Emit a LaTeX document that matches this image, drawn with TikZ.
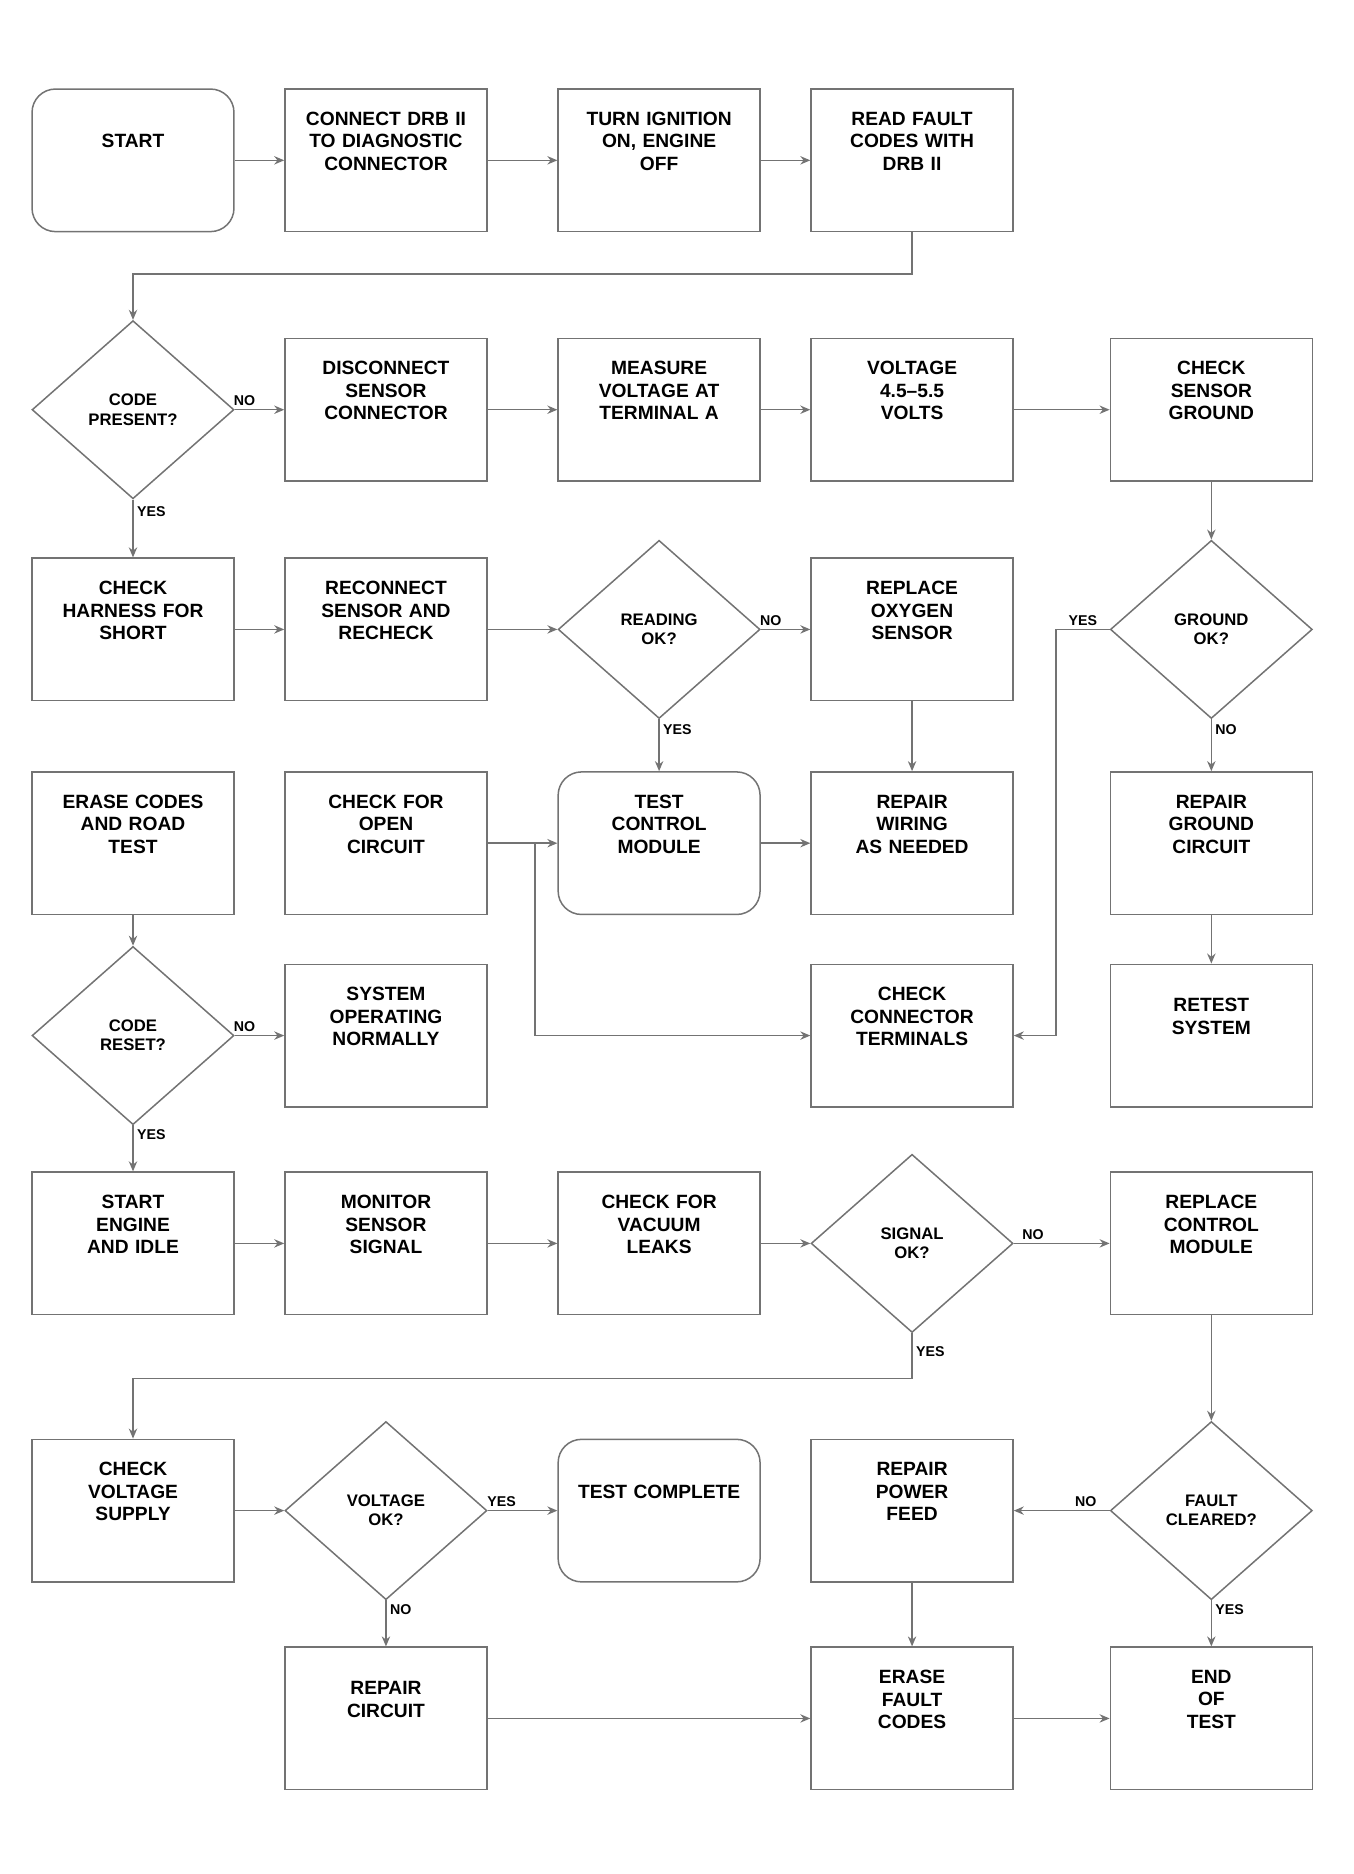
\documentclass[tikz,border=0pt]{standalone}
\usepackage{fontspec}
\setmainfont{Liberation Sans}
\usetikzlibrary{shapes.geometric,arrows.meta}

\begin{document}
\begin{tikzpicture}[x=0.025cm, y=-0.025cm,
    box/.style={draw=black!55, line width=0.9pt, minimum width=4.25cm, minimum height=3cm,
        text width=3.7cm, align=center, font=\bfseries\fontsize{11.5}{13.5}\selectfont,
        execute at end node={\endgraf\vspace*{0.8cm}}},
    term/.style={box, rounded corners=14pt},
    test/.style={diamond, draw=black!55, line width=0.9pt, minimum width=4.25cm,
        minimum height=3.75cm, inner sep=0pt, align=center, font=\bfseries\fontsize{10}{11.5}\selectfont},
    flow/.style={draw=black!55, line width=0.9pt, -{Stealth[length=6pt,width=5pt]}},
    lab/.style={font=\bfseries\fontsize{8.5}{10}\selectfont, inner sep=2pt}]
    \useasboundingbox (0,0) rectangle (1140,1578);

    % first row
    \node[term] (start) at (112,135) {START};
    \node[box] (connect) at (325,135) {CONNECT DRB II\\TO DIAGNOSTIC\\CONNECTOR};
    \node[box] (ignon) at (555,135) {TURN IGNITION\\ON, ENGINE\\OFF};
    \node[box] (readcodes) at (768,135) {READ FAULT\\CODES WITH\\DRB II};

    % second row
    \node[test] (codeq) at (112,345) {CODE\\PRESENT?};
    \node[box] (unplug) at (325,345) {DISCONNECT\\SENSOR\\CONNECTOR};
    \node[box] (measure) at (555,345) {MEASURE\\VOLTAGE AT\\TERMINAL A};
    \node[box] (volts) at (768,345) {VOLTAGE\\4.5--5.5\\VOLTS};
    \node[box] (ground) at (1020,345) {CHECK\\SENSOR\\GROUND};

    % third row
    \node[box] (harness) at (112,530) {CHECK\\HARNESS FOR\\SHORT};
    \node[box] (reconnect) at (325,530) {RECONNECT\\SENSOR AND\\RECHECK};
    \node[test] (readq) at (555,530) {READING\\OK?};
    \node[box] (replsensor) at (768,530) {REPLACE\\OXYGEN\\SENSOR};
    \node[test] (groundq) at (1020,530) {GROUND\\OK?};

    % fourth row
    \node[box] (erase) at (112,710) {ERASE CODES\\AND ROAD\\TEST};
    \node[box] (opencheck) at (325,710) {CHECK FOR\\OPEN\\CIRCUIT};
    \node[term] (module) at (555,710) {TEST\\CONTROL\\MODULE};
    \node[box] (repwire) at (768,710) {REPAIR\\WIRING\\AS NEEDED};
    \node[box] (repground) at (1020,710) {REPAIR\\GROUND\\CIRCUIT};

    % fifth row
    \node[test] (resetq) at (112,872) {CODE\\RESET?};
    \node[box] (normal) at (325,872) {SYSTEM\\OPERATING\\NORMALLY};
    \node[box] (terminals) at (768,872) {CHECK\\CONNECTOR\\TERMINALS};
    \node[box] (retest) at (1020,872) {RETEST\\SYSTEM};

    % sixth row
    \node[box] (idle) at (112,1047) {START\\ENGINE\\AND IDLE};
    \node[box] (monitor) at (325,1047) {MONITOR\\SENSOR\\SIGNAL};
    \node[box] (vacuum) at (555,1047) {CHECK FOR\\VACUUM\\LEAKS};
    \node[test] (signalq) at (768,1047) {SIGNAL\\OK?};
    \node[box] (replmodule) at (1020,1047) {REPLACE\\CONTROL\\MODULE};

    % seventh row
    \node[box] (supply) at (112,1272) {CHECK\\VOLTAGE\\SUPPLY};
    \node[test] (supplyq) at (325,1272) {VOLTAGE\\OK?};
    \node[term] (done) at (555,1272) {TEST COMPLETE};
    \node[box] (repfeed) at (768,1272) {REPAIR\\POWER\\FEED};
    \node[test] (clearq) at (1020,1272) {FAULT\\CLEARED?};

    % last row
    \node[box] (repcircuit) at (325,1447) {REPAIR\\CIRCUIT};
    \node[box] (erasecodes) at (768,1447) {ERASE\\FAULT\\CODES};
    \node[box] (endtest) at (1020,1447) {END\\OF\\TEST};

    % straight connectors
    \foreach \from/\to in {start/connect, connect/ignon, ignon/readcodes,
        unplug/measure, measure/volts, volts/ground, ground/groundq,
        harness/reconnect, reconnect/readq, replsensor/repwire,
        module/repwire, repground/retest, erase/resetq,
        idle/monitor, monitor/vacuum, vacuum/signalq, replmodule/clearq,
        supply/supplyq, repfeed/erasecodes, repcircuit/erasecodes, erasecodes/endtest}
        \draw[flow] (\from) -- (\to);

    % decision exits
    \draw[flow] (codeq) -- node[lab, above, pos=0.2] {NO} (unplug);
    \draw[flow] (codeq) -- node[lab, right, pos=0.2] {YES} (harness);
    \draw[flow] (readq) -- node[lab, above, pos=0.2] {NO} (replsensor);
    \draw[flow] (readq) -- node[lab, right, pos=0.2] {YES} (module);
    \draw[flow] (groundq) -- node[lab, right, pos=0.2] {NO} (repground);
    \draw[flow] (resetq) -- node[lab, above, pos=0.2] {NO} (normal);
    \draw[flow] (resetq) -- node[lab, right, pos=0.2] {YES} (idle);
    \draw[flow] (signalq) -- node[lab, above, pos=0.2] {NO} (replmodule);
    \draw[flow] (supplyq) -- node[lab, above, pos=0.2] {YES} (done);
    \draw[flow] (supplyq) -- node[lab, right, pos=0.2] {NO} (repcircuit);
    \draw[flow] (clearq) -- node[lab, above, pos=0.25] {NO} (repfeed);
    \draw[flow] (clearq) -- node[lab, right, pos=0.2] {YES} (endtest);

    % routed connectors
    \draw[flow] (readcodes.south) -- ++(0,35) -| (codeq.north);
    \draw[flow] (opencheck) -- (module);
    \draw[flow] (opencheck.east) -- ++(40,0) |- (terminals.west);
    \draw[flow] (groundq.west) -- node[lab, above] {YES} ++(-45,0) |- (terminals.east);
    \draw[flow] (signalq.south) -- node[lab, right, pos=0.4] {YES} ++(0,38) -| (supply.north);
\end{tikzpicture}
\end{document}
